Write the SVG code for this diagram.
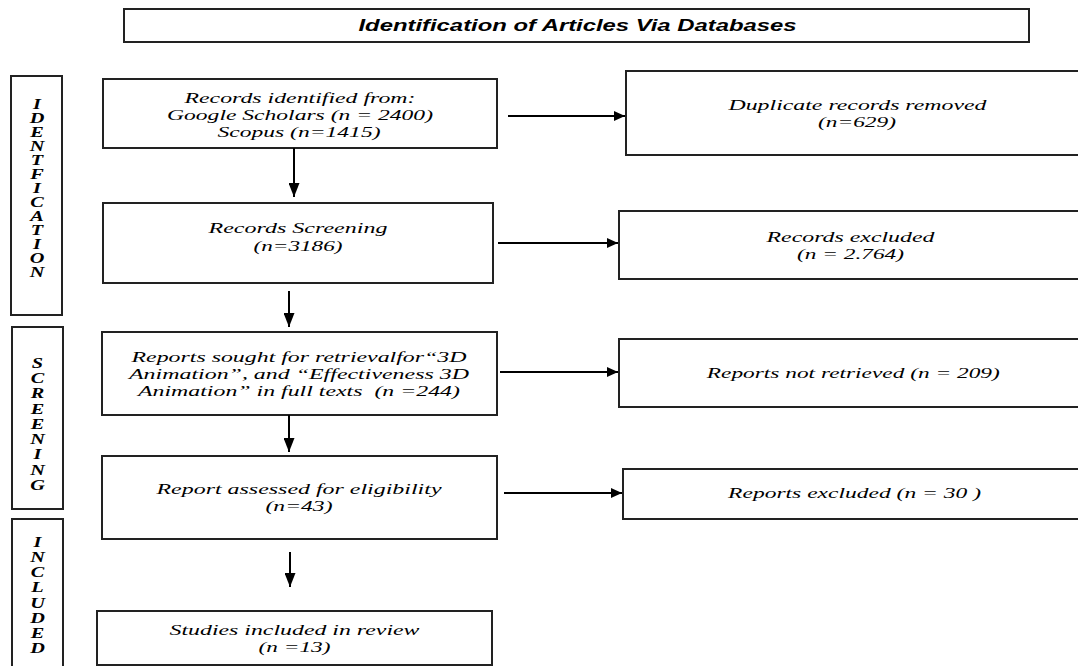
<svg xmlns="http://www.w3.org/2000/svg" width="1078" height="666" viewBox="0 0 1078 666">
<defs>
<style>
.box{fill:#fff;stroke:#222;stroke-width:2}
.t{font-family:"Liberation Serif","Times New Roman",serif;font-style:italic;font-size:15px;fill:#000;text-anchor:middle}
.side{font-family:"Liberation Serif","Times New Roman",serif;font-style:italic;font-weight:bold;font-size:14px;fill:#000;text-anchor:middle}
.title{font-family:"Liberation Sans",Arial,sans-serif;font-style:italic;font-weight:bold;font-size:16px;fill:#000;text-anchor:middle}
.c{stroke:#000;stroke-width:2;fill:none}
</style>
<marker id="av" markerUnits="userSpaceOnUse" markerWidth="14" markerHeight="11" refX="14" refY="5.5" orient="auto"><path d="M0,0 L14,5.5 L0,11 Z" fill="#000"/></marker>
<marker id="ah" markerUnits="userSpaceOnUse" markerWidth="11" markerHeight="10" refX="11" refY="5" orient="auto"><path d="M0,0 L11,5 L0,10 Z" fill="#000"/></marker>
</defs>
<rect width="1078" height="666" fill="#fff"/>

<g id="title">
<rect class="box" x="124" y="9" width="905" height="33"/>
<text class="title" x="577.5" y="31" textLength="438" lengthAdjust="spacingAndGlyphs">Identification of Articles Via Databases</text>
</g>

<g id="phase-identification">
<rect class="box" x="11" y="76" width="51" height="239"/>
<g transform="translate(37,0) scale(1.45,1)">
<text class="side"><tspan x="0" y="109">I</tspan><tspan x="0" y="123">D</tspan><tspan x="0" y="137">E</tspan><tspan x="0" y="151">N</tspan><tspan x="0" y="165">T</tspan><tspan x="0" y="179">F</tspan><tspan x="0" y="193">I</tspan><tspan x="0" y="207">C</tspan><tspan x="0" y="221">A</tspan><tspan x="0" y="235">T</tspan><tspan x="0" y="249">I</tspan><tspan x="0" y="263">O</tspan><tspan x="0" y="277">N</tspan></text>
</g>
</g>

<g id="phase-screening">
<rect class="box" x="12" y="327" width="51" height="182"/>
<g transform="translate(37.5,0) scale(1.45,1)">
<text class="side"><tspan x="0" y="368">S</tspan><tspan x="0" y="383">C</tspan><tspan x="0" y="398">R</tspan><tspan x="0" y="414">E</tspan><tspan x="0" y="429">E</tspan><tspan x="0" y="444">N</tspan><tspan x="0" y="459">I</tspan><tspan x="0" y="475">N</tspan><tspan x="0" y="490">G</tspan></text>
</g>
</g>

<g id="phase-included">
<rect class="box" x="12" y="519" width="51" height="170"/>
<g transform="translate(37.5,0) scale(1.45,1)">
<text class="side"><tspan x="0" y="547">I</tspan><tspan x="0" y="562">N</tspan><tspan x="0" y="577">C</tspan><tspan x="0" y="592">L</tspan><tspan x="0" y="608">U</tspan><tspan x="0" y="623">D</tspan><tspan x="0" y="638">E</tspan><tspan x="0" y="653">D</tspan></text>
</g>
</g>

<g id="records-identified">
<rect class="box" x="103" y="79" width="394" height="69"/>
<text class="t" x="300" y="103" textLength="231" lengthAdjust="spacingAndGlyphs">Records identified from:</text>
<text class="t" x="300" y="120" textLength="266" lengthAdjust="spacingAndGlyphs">Google Scholars (n = 2400)</text>
<text class="t" x="299" y="137" textLength="163" lengthAdjust="spacingAndGlyphs">Scopus (n=1415)</text>
</g>

<g id="records-screening">
<rect class="box" x="103" y="203" width="390" height="80"/>
<text class="t" x="298" y="233" textLength="179" lengthAdjust="spacingAndGlyphs">Records Screening</text>
<text class="t" x="298" y="251" textLength="89" lengthAdjust="spacingAndGlyphs">(n=3186)</text>
</g>

<g id="reports-sought">
<rect class="box" x="102" y="332" width="395" height="83"/>
<text class="t" x="299" y="362" textLength="335" lengthAdjust="spacingAndGlyphs">Reports sought for retrievalfor“3D</text>
<text class="t" x="299" y="379" textLength="340" lengthAdjust="spacingAndGlyphs">Animation”, and “Effectiveness 3D</text>
<text class="t" x="299" y="396" textLength="322" lengthAdjust="spacingAndGlyphs" xml:space="preserve">Animation” in full texts  (n =244)</text>
</g>

<g id="report-assessed">
<rect class="box" x="102" y="456" width="395" height="83"/>
<text class="t" x="299" y="494" textLength="285" lengthAdjust="spacingAndGlyphs">Report assessed for eligibility</text>
<text class="t" x="299" y="511" textLength="67" lengthAdjust="spacingAndGlyphs">(n=43)</text>
</g>

<g id="studies-included">
<rect class="box" x="97" y="611" width="395" height="54"/>
<text class="t" x="294.5" y="635" textLength="250" lengthAdjust="spacingAndGlyphs">Studies included in review</text>
<text class="t" x="294.5" y="652" textLength="72" lengthAdjust="spacingAndGlyphs">(n =13)</text>
</g>

<g id="duplicates-removed">
<rect class="box" x="626" y="71" width="470" height="84"/>
<text class="t" x="857.5" y="110" textLength="258" lengthAdjust="spacingAndGlyphs">Duplicate records removed</text>
<text class="t" x="857" y="127" textLength="78" lengthAdjust="spacingAndGlyphs">(n=629)</text>
</g>

<g id="records-excluded">
<rect class="box" x="619" y="211" width="470" height="68"/>
<text class="t" x="850.5" y="242" textLength="168" lengthAdjust="spacingAndGlyphs">Records excluded</text>
<text class="t" x="850.5" y="259" textLength="107" lengthAdjust="spacingAndGlyphs">(n = 2.764)</text>
</g>

<g id="reports-not-retrieved">
<rect class="box" x="619" y="339" width="470" height="68"/>
<text class="t" x="853.3" y="378" textLength="293" lengthAdjust="spacingAndGlyphs">Reports not retrieved (n = 209)</text>
</g>

<g id="reports-excluded">
<rect class="box" x="623" y="469" width="470" height="50"/>
<text class="t" x="854.6" y="498" textLength="253" lengthAdjust="spacingAndGlyphs">Reports excluded (n = 30 )</text>
</g>

<g id="connectors">
<line class="c" x1="294" y1="148" x2="294" y2="197" marker-end="url(#av)"/>
<line class="c" x1="289" y1="291" x2="289" y2="327" marker-end="url(#av)"/>
<line class="c" x1="289" y1="415" x2="289" y2="452" marker-end="url(#av)"/>
<line class="c" x1="290" y1="552" x2="290" y2="587" marker-end="url(#av)"/>
<line class="c" x1="508" y1="116" x2="625" y2="116" marker-end="url(#ah)"/>
<line class="c" x1="498" y1="243" x2="618" y2="243" marker-end="url(#ah)"/>
<line class="c" x1="500" y1="372" x2="618" y2="372" marker-end="url(#ah)"/>
<line class="c" x1="504" y1="493" x2="622" y2="493" marker-end="url(#ah)"/>
</g>
</svg>
